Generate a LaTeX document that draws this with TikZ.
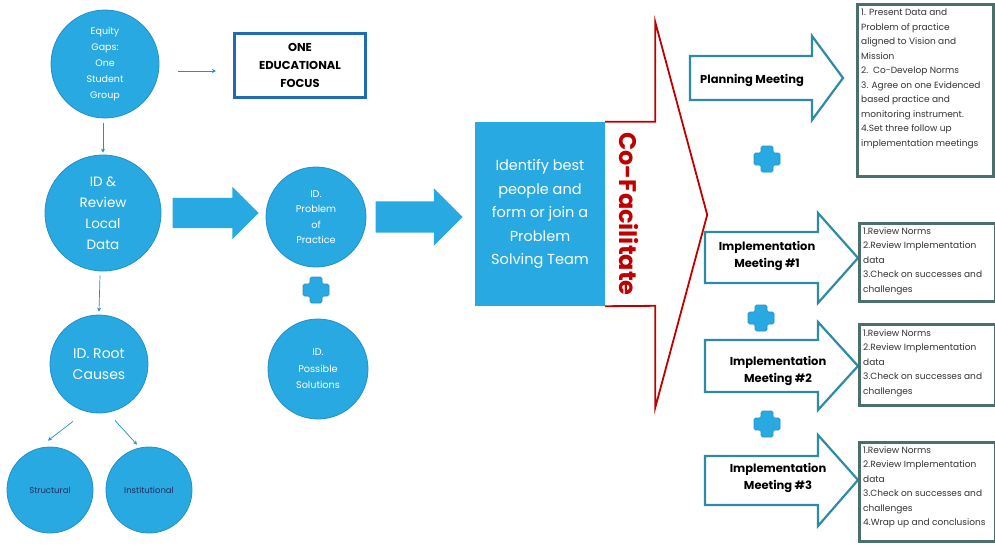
\documentclass[tikz,border=0pt]{standalone}
\usepackage{fontspec}
\setmainfont{Poppins}
\usepackage{tikz}
\usetikzlibrary{arrows.meta,shapes.arrows}

\definecolor{skyblue}{HTML}{29A9E1}
\definecolor{skyline}{HTML}{2290C6}
\definecolor{tealline}{HTML}{2E8BA6}
\definecolor{boxline}{HTML}{4A706C}
\definecolor{focusblue}{HTML}{1F6CB4}
\definecolor{cored}{HTML}{C00000}
\definecolor{navytext}{HTML}{1B2C5C}

\tikzset{
  bubble/.style={circle, fill=skyblue, draw=skyline, line width=0.8pt, text=white,
    align=center, inner sep=0pt, minimum size=#1},
  thinarrow/.style={-{Stealth[length=4pt,width=4pt]}, skyline, line width=0.7pt},
  fatarrow/.style={single arrow, fill=skyblue, inner xsep=0pt, minimum width=0pt},
  meetarrow/.style={draw=tealline, line width=2.2pt, fill=white, line join=miter},
  meetlabel/.style={align=center, font=\bfseries\fontsize{11.5}{17}\selectfont},
  listbox/.style={draw=boxline, line width=2.6pt, fill=white, anchor=north west,
    minimum width=136pt, inner sep=0pt},
  listtext/.style={anchor=north west, align=left, inner sep=0pt,
    font=\fontsize{9}{14.5}\selectfont, text=black!80}
}

\begin{document}
\begin{tikzpicture}[x=1pt,y=-1pt]
  \useasboundingbox (0,0) rectangle (995,550);

  % left column
  \node[bubble=108pt, font=\fontsize{9.5}{16}\selectfont] (gaps) at (105,64)
    {Equity\\Gaps:\\One\\Student\\Group};
  \node[draw=focusblue, line width=3pt, minimum width=131pt, minimum height=64pt,
    align=center, font=\bfseries\fontsize{11.5}{18}\selectfont] (focus) at (300,65)
    {ONE\\EDUCATIONAL\\FOCUS};
  \node[bubble=116pt, font=\fontsize{13.5}{21}\selectfont] (review) at (103,213)
    {ID \&\\Review\\Local\\Data};
  \node[bubble=98pt, font=\fontsize{14}{21}\selectfont] (roots) at (99,364)
    {ID. Root\\Causes};
  \node[bubble=86pt, text=navytext, font=\fontsize{8.5}{9}\selectfont] (structural) at (50,490)
    {Structural};
  \node[bubble=86pt, text=navytext, font=\fontsize{8.5}{9}\selectfont] (institutional) at (149,490)
    {Institutional};

  \draw[thinarrow] ([shift={(19,7)}]gaps.east) -- ([shift={(-17,6)}]focus.west);
  \draw[thinarrow] ([shift={(-2,5)}]gaps.south) -- ([shift={(0,-2)}]review.north);
  \draw[thinarrow] ([shift={(-3,4)}]review.south) -- ([shift={(0,-3)}]roots.north);
  \draw[thinarrow] ([shift={(-26,8)}]roots.south) -- ([shift={(-2,-6)}]structural.north);
  \draw[thinarrow] ([shift={(16,7)}]roots.south) -- ([shift={(-12,-2)}]institutional.north);

  % middle column
  \node[bubble=100pt, font=\fontsize{9.7}{15.5}\selectfont] (problem) at (316,217)
    {ID.\\Problem\\of\\Practice};
  \node[bubble=100pt, font=\fontsize{9.7}{16.5}\selectfont] (solutions) at (318,369)
    {ID.\\Possible\\Solutions};
  \node[fatarrow, minimum height=86pt, inner ysep=15pt, single arrow head extend=11pt,
    anchor=tail] (step1) at ([xshift=11pt]review.east) {};
  \node[fatarrow, minimum height=87pt, inner ysep=15.5pt, single arrow head extend=13pt,
    anchor=tail] (step2) at ([xshift=9pt]problem.east) {};

  \node[fill=skyblue, minimum width=130pt, minimum height=184pt, align=center, text=white,
    font=\fontsize{14.5}{23.5}\selectfont] (team) at (540,214)
    {Identify best\\people and\\form or join a\\Problem\\Solving Team};
  \draw[cored, line width=1.8pt, line join=miter] (team.north east) -- ++(50,0) -- ++(0,-100)
    -- ++(52,193) -- ++(-52,193) -- ++(0,-102) -- (team.south east);
  \node[rotate=-90, text=cored, font=\bfseries\fontsize{24}{24}\selectfont] (cofac)
    at ([xshift=24pt]team.east) {Co-Facilitate};

  % plus signs
  \foreach \px/\py in {316/290, 767/159, 761/318, 767/424}
    \filldraw[fill=skyblue, draw=skyline, line width=0.6pt, rounded corners=1.5pt, shift={(\px,\py)}]
      (-6,-13) -- (6,-13) -- (6,-6) -- (13,-6) -- (13,6) -- (6,6) -- (6,13)
      -- (-6,13) -- (-6,6) -- (-13,6) -- (-13,-6) -- (-6,-6) -- cycle;

  % meetings
  \draw[meetarrow] (690,56) -- (812,56) -- (812,36) -- (843,78) -- (812,120) -- (812,100)
    -- (690,100) -- cycle;
  \node[meetlabel] (planning) at (752,80) {Planning Meeting};
  \draw[meetarrow] (705,232) -- (818,232) -- (818,213) -- (858,258) -- (818,303) -- (818,283)
    -- (705,283) -- cycle;
  \node[meetlabel] (meet1) at (767,256) {Implementation\\Meeting \#1};
  \draw[meetarrow] (705,340) -- (818,340) -- (818,322) -- (858,366) -- (818,410) -- (818,392)
    -- (705,392) -- cycle;
  \node[meetlabel] (meet2) at (778,371) {Implementation\\Meeting \#2};
  \draw[meetarrow] (705,456) -- (818,456) -- (818,435) -- (858,480) -- (818,526) -- (818,505)
    -- (705,505) -- cycle;
  \node[meetlabel] (meet3) at (778,478) {Implementation\\Meeting \#3};

  \node[listbox, minimum height=172pt] (pbox) at (856,3) {};
  \node[listtext] (ptext) at ([shift={(5,6)}]pbox.north west)
    {1. Present Data and\\Problem of practice\\aligned to Vision and\\Mission\\
     2.\ \ Co-Develop Norms\\3. Agree on one Evidenced\\based practice and\\
     monitoring instrument.\\4.Set three follow up\\implementation meetings};
  \node[listbox, minimum height=78pt] (box1) at (858,222) {};
  \node[listtext] (text1) at ([shift={(5,5)}]box1.north west)
    {1.Review Norms\\2.Review Implementation\\data\\3.Check on successes and\\challenges};
  \node[listbox, minimum height=81pt] (box2) at (858,323) {};
  \node[listtext] (text2) at ([shift={(5,6)}]box2.north west)
    {1.Review Norms\\2.Review Implementation\\data\\3.Check on successes and\\challenges};
  \node[listbox, minimum height=99pt] (box3) at (858,441) {};
  \node[listtext] (text3) at ([shift={(5,5)}]box3.north west)
    {1.Review Norms\\2.Review Implementation\\data\\3.Check on successes and\\challenges\\
     4.Wrap up and conclusions};
\end{tikzpicture}
\end{document}
